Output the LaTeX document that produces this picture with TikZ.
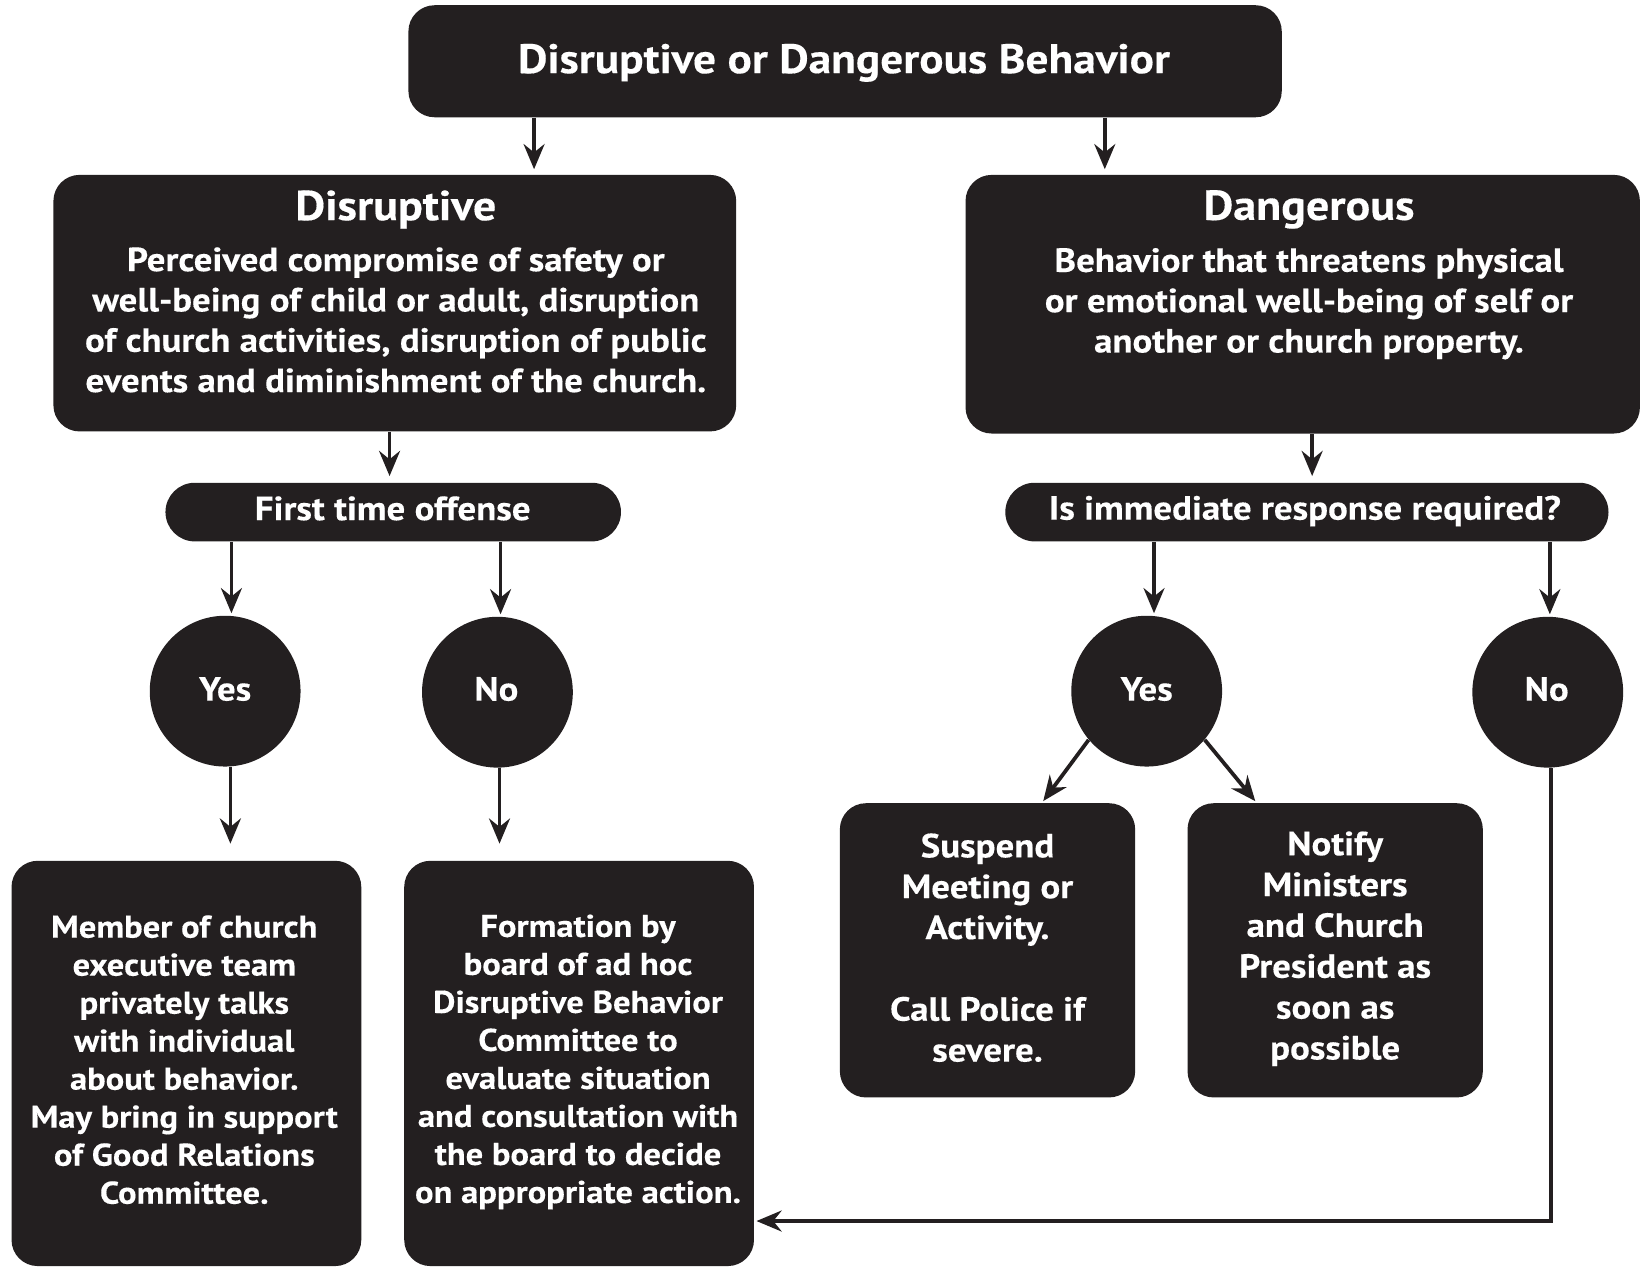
\documentclass[tikz,border=0pt]{standalone}
\usepackage{fontspec}
\setmainfont{PT Sans}[BoldFeatures={FakeStretch=1.1,FakeBold=0.3}]
\usetikzlibrary{arrows.meta}
\definecolor{ink}{HTML}{231F20}
\begin{document}
\begin{tikzpicture}[x=0.5pt,y=-0.5pt,
  box/.style={fill=ink, rounded corners=12.5pt, inner sep=0pt},
  pill/.style={fill=ink, rounded corners=14pt, inner sep=0pt, minimum height=28pt},
  circ/.style={fill=ink, circle, minimum size=72pt, inner sep=0pt},
  txt/.style={text=white, align=center, inner sep=0pt},
  arr/.style={draw=ink, line width=1.8pt, -{Stealth[length=12pt,width=10pt,inset=4pt]}},
  fT/.style={font=\fontsize{19.7}{23}\selectfont\bfseries},
  fH/.style={font=\fontsize{20}{24}\selectfont\bfseries},
  fB/.style={font=\fontsize{16}{19.25}\selectfont\bfseries},
  fS/.style={font=\fontsize{15}{18.15}\selectfont\bfseries},
  fM/.style={font=\fontsize{16}{19.5}\selectfont\bfseries},
]
\useasboundingbox (0,0) rectangle (1568,1209);

% boxes
\node[box, minimum width=417pt, minimum height=53.5pt] (top) at (807,58.5) {};
\node[box, minimum width=326pt, minimum height=122.5pt] (disr) at (377,289.5) {};
\node[box, minimum width=322pt, minimum height=123.5pt] (dang) at (1244,290.5) {};
\node[pill, minimum width=217.5pt] (first) at (375.5,489) {};
\node[pill, minimum width=288pt] (immed) at (1248,489) {};
\node[circ] (yesL) at (215,660) {};
\node[circ] (noL) at (475,661) {};
\node[circ] (yesR) at (1095,660) {};
\node[circ] (noR) at (1478,661) {};
\node[box, minimum width=167pt, minimum height=193.5pt] (lbox) at (178,1015.5) {};
\node[box, minimum width=167pt, minimum height=193.5pt] (mbox) at (553,1015.5) {};
\node[box, minimum width=141pt, minimum height=140.5pt] (susp) at (943,907.5) {};
\node[box, minimum width=141pt, minimum height=140.5pt] (noti) at (1275,907.5) {};

% texts
\node[txt, fT] (ttop) at (806,60) {Disruptive or Dangerous Behavior};
\node[txt, fH] (tdisr) at (378,200) {Disruptive};
\node[txt, fB] (bdisr) at (378,305.5) {Perceived compromise of safety or\\well-being of child or adult, disruption\\of church activities, disruption of public\\events and diminishment of the church.};
\node[txt, fH] (tdang) at (1250,200) {Dangerous};
\node[txt, fB] (bdang) at (1250,290) {Behavior that threatens physical\\or emotional well-being of self or\\another or church property.};
\node[txt, fB] (tfirst) at (375,485.5) {First time offense};
\node[txt, fB] (timmed) at (1246,488) {Is immediate response required?};
\node[txt, fB] (tyesL) at (215,658) {Yes};
\node[txt, fB] (tnoL) at (474,658) {No};
\node[txt, fB] (tyesR) at (1095,658) {Yes};
\node[txt, fB] (tnoR) at (1477,658) {No};
\node[txt, fS] (tl) at (176,1012) {Member of church\\executive team\\privately talks\\with individual\\about behavior.\\May bring in support\\of Good Relations\\Committee.};
\node[txt, fS] (tm) at (552,1014) {Formation by\\board of ad hoc\\Disruptive Behavior\\Committee to\\evaluate situation\\and consultation with\\the board to decide\\on appropriate action.};
\node[txt, fM] (ts) at (943,905) {Suspend\\Meeting or\\Activity.\\[19.5pt]Call Police if\\severe.};
\node[txt, fM] (tn) at (1275,906) {Notify\\Ministers\\and Church\\President as\\soon as\\possible};

% columns
\coordinate (xa) at (510,0);
\coordinate (xb) at (1055,0);
\coordinate (xc) at (372,0);
\coordinate (xd) at (1253,0);
\coordinate (xe) at (221,0);
\coordinate (xf) at (478,0);
\coordinate (xg) at (1102,0);
\coordinate (xh) at (1480,0);
\coordinate (xi) at (220,0);
\coordinate (xj) at (477,0);
\coordinate (xl) at (995,0);
\coordinate (xm) at (1200,0);
\coordinate (xn) at (1481,0);
\coordinate (yk) at (0,1166);

% connectors
\draw[arr, shorten >=2.5pt] (top.south -| xa) -- (disr.north -| xa);
\draw[arr, shorten >=2.5pt] (top.south -| xb) -- (dang.north -| xb);
\draw[arr, shorten >=3pt] (disr.south -| xc) -- (first.north -| xc);
\draw[arr, shorten >=3pt] (dang.south -| xd) -- (immed.north -| xd);
\draw[arr, shorten >=1pt] (first.south -| xe) -- (xe |- yesL.north);
\draw[arr, shorten >=1pt] (first.south -| xf) -- (xf |- noL.north);
\draw[arr, shorten >=1pt] (immed.south -| xg) -- (xg |- yesR.north);
\draw[arr, shorten >=1pt] (immed.south -| xh) -- (xh |- noR.north);
\draw[arr, shorten >=8pt] (yesL.south -| xi) -- (lbox.north -| xi);
\draw[arr, shorten >=8pt] (noL.south -| xj) -- (mbox.north -| xj);
\draw[arr, shorten >=1pt] (yesR.220) -- (susp.north -| xl);
\draw[arr, shorten >=1pt] (yesR.320) -- (noti.north -| xm);
\draw[arr, shorten >=1pt] (noR.south -| xn) |- (mbox.east |- yk);
\end{tikzpicture}
\end{document}
